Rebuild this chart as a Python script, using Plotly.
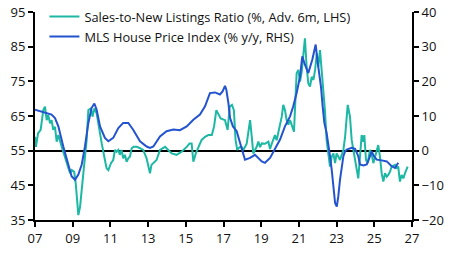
import plotly.graph_objects as go

# Sales-to-New Listings Ratio (%, advanced 6 months, LHS)
snlr_x = [2007.00, 2007.05, 2007.16, 2007.30, 2007.44, 2007.53, 2007.62, 2007.70, 2007.80, 2007.88,
          2007.97, 2008.06, 2008.15, 2008.24, 2008.42, 2008.59, 2008.77, 2008.86, 2008.95, 2009.08,
          2009.16, 2009.24, 2009.30, 2009.39, 2009.48, 2009.62, 2009.74, 2009.83, 2009.97, 2010.05,
          2010.15, 2010.27, 2010.36, 2010.45, 2010.54, 2010.71, 2010.80, 2010.89, 2011.03, 2011.15,
          2011.24, 2011.33, 2011.42, 2011.50, 2011.59, 2011.68, 2011.77, 2011.86, 2011.95, 2012.04,
          2012.13, 2012.23, 2012.40, 2012.57, 2012.74, 2012.92, 2013.10, 2013.18, 2013.28, 2013.45,
          2013.63, 2013.90, 2014.07, 2014.25, 2014.51, 2014.78, 2015.05, 2015.20, 2015.31, 2015.40,
          2015.53, 2015.66, 2015.84, 2016.02, 2016.20, 2016.38, 2016.50, 2016.62, 2016.70, 2016.85,
          2017.08, 2017.22, 2017.33, 2017.45, 2017.55, 2017.64, 2017.73, 2017.85, 2017.97, 2018.05,
          2018.23, 2018.41, 2018.50, 2018.58, 2018.67, 2018.76, 2018.85, 2018.94, 2019.03, 2019.20,
          2019.38, 2019.47, 2019.56, 2019.73, 2019.82, 2020.00, 2020.09, 2020.17, 2020.26, 2020.35,
          2020.44, 2020.53, 2020.62, 2020.74, 2020.79, 2020.88, 2020.97, 2021.06, 2021.15, 2021.24,
          2021.32, 2021.41, 2021.50, 2021.59, 2021.68, 2021.77, 2021.86, 2021.95, 2022.03, 2022.12,
          2022.21, 2022.29, 2022.38, 2022.47, 2022.56, 2022.65, 2022.74, 2022.83, 2022.92, 2023.00,
          2023.09, 2023.18, 2023.27, 2023.36, 2023.45, 2023.54, 2023.59, 2023.71, 2023.80, 2023.89,
          2023.98, 2024.07, 2024.15, 2024.24, 2024.33, 2024.42, 2024.47, 2024.56, 2024.65, 2024.77,
          2024.86, 2024.95, 2025.04, 2025.13, 2025.21, 2025.30, 2025.39, 2025.48, 2025.57, 2025.66,
          2025.74, 2025.83, 2025.92, 2026.10, 2026.19, 2026.27, 2026.36, 2026.45, 2026.54, 2026.63,
          2026.72, 2026.77]
snlr_y = [59.0, 56.1, 60.0, 61.0, 66.7, 67.7, 63.8, 65.3, 62.9, 63.8,
          61.0, 61.9, 57.6, 59.5, 56.1, 53.3, 50.4, 48.5, 49.4, 48.9,
          45.6, 39.8, 36.4, 38.8, 43.7, 50.4, 58.1, 66.7, 67.2, 64.8,
          67.2, 65.8, 62.9, 59.0, 57.1, 52.3, 49.9, 49.4, 51.4, 52.3,
          55.2, 54.7, 55.2, 53.8, 55.2, 52.8, 53.8, 51.8, 52.8, 53.3,
          55.7, 56.1, 56.1, 55.7, 55.2, 52.8, 48.5, 50.9, 51.4, 52.3,
          55.2, 56.1, 55.2, 54.2, 53.8, 54.7, 56.1, 57.1, 57.1, 51.8,
          54.2, 55.7, 58.1, 59.0, 59.5, 59.5, 62.0, 66.7, 66.0, 64.3,
          63.8, 61.0, 67.7, 68.2, 66.7, 58.1, 55.2, 56.0, 56.0, 55.2,
          57.0, 63.8, 59.0, 54.2, 55.2, 56.1, 57.6, 56.0, 57.1, 57.0,
          57.6, 55.5, 57.0, 59.5, 58.0, 62.4, 64.8, 68.2, 66.7, 63.8,
          62.5, 63.8, 62.5, 60.5, 66.7, 77.3, 78.3, 74.9, 77.8, 82.6,
          87.4, 79.2, 74.4, 73.5, 76.3, 75.4, 78.3, 83.1, 79.2, 84.0,
          78.3, 72.5, 66.7, 58.1, 54.2, 50.4, 53.3, 54.2, 51.4, 54.2,
          53.3, 52.3, 53.8, 55.2, 59.0, 65.8, 68.2, 64.8, 58.1, 55.2,
          52.3, 48.5, 47.0, 53.3, 59.5, 57.6, 59.5, 52.3, 51.4, 55.2,
          54.0, 51.4, 53.3, 55.7, 56.6, 53.3, 48.5, 46.1, 48.5, 47.5,
          48.0, 48.9, 50.4, 50.9, 50.0, 50.4, 46.1, 48.0, 47.0, 48.5,
          49.9, 50.4]

# MLS House Price Index (% y/y, RHS)
hpi_x = [2007.00, 2007.50, 2007.88, 2008.06, 2008.24, 2008.50, 2008.77, 2008.94, 2009.12, 2009.30,
         2009.48, 2009.65, 2009.83, 2010.00, 2010.15, 2010.27, 2010.45, 2010.71, 2010.89, 2011.15,
         2011.42, 2011.68, 2011.95, 2012.20, 2012.57, 2012.92, 2013.10, 2013.28, 2013.63, 2013.98,
         2014.34, 2014.69, 2015.05, 2015.40, 2015.75, 2016.02, 2016.28, 2016.55, 2016.81, 2016.95,
         2017.08, 2017.15, 2017.26, 2017.35, 2017.50, 2017.70, 2017.88, 2018.05, 2018.14, 2018.41,
         2018.67, 2019.03, 2019.20, 2019.47, 2019.73, 2020.00, 2020.26, 2020.53, 2020.70, 2020.88,
         2021.06, 2021.18, 2021.32, 2021.50, 2021.71, 2021.89, 2021.98, 2022.08, 2022.17, 2022.26,
         2022.35, 2022.47, 2022.56, 2022.65, 2022.74, 2022.83, 2022.92, 2023.01, 2023.09, 2023.18,
         2023.27, 2023.36, 2023.45, 2023.54, 2023.80, 2023.98, 2024.15, 2024.24, 2024.42, 2024.60,
         2024.74, 2024.86, 2024.98, 2025.13, 2025.39, 2025.66, 2025.92, 2026.10, 2026.27]
hpi_y = [11.8, 11.0, 10.4, 9.4, 7.0, 1.2, -4.5, -7.4, -8.4, -6.9,
         -4.0, 1.2, 8.0, 12.3, 13.6, 11.8, 7.0, 3.7, 2.7, 3.7,
         6.5, 8.0, 8.0, 6.1, 2.7, 1.2, 0.8, 1.2, 4.1, 5.6,
         6.1, 5.9, 7.0, 8.9, 10.4, 12.8, 16.6, 16.8, 16.2, 17.1,
         18.7, 17.6, 13.7, 9.4, 7.0, 5.6, 2.2, -0.7, -2.6, -2.1,
         -1.2, -3.1, -3.5, -2.1, 0.3, 3.2, 7.0, 9.9, 12.8, 16.6,
         21.4, 27.2, 24.8, 22.4, 26.2, 30.6, 26.2, 22.4, 18.5, 12.8,
         8.0, 5.1, 2.2, -1.6, -5.5, -10.3, -15.1, -16.1, -13.2, -8.4,
         -4.5, -1.6, -0.2, 0.3, 0.8, 0.5, -1.6, -4.0, -4.3, -4.0,
         -2.1, -0.2, -1.6, -2.6, -2.8, -3.1, -4.5, -5.0, -3.5]

x_ticks = [2007, 2009, 2011, 2013, 2015, 2017, 2019, 2021, 2023, 2025, 2027]
x_tick_text = ["07", "09", "11", "13", "15", "17", "19", "21", "23", "25", "27"]
left_ticks = [35, 45, 55, 65, 75, 85, 95]
right_ticks = [-20, -10, 0, 10, 20, 30, 40]

TEAL = "#1db8a4"
BLUE = "#2453cf"
FONT = "Open Sans"

fig = go.Figure()
fig.add_trace(go.Scatter(x=snlr_x, y=snlr_y, mode="lines", yaxis="y", legend="legend",
                         name="Sales-to-New Listings Ratio (%, Adv. 6m, LHS)",
                         line=dict(color=TEAL, width=2)))
fig.add_trace(go.Scatter(x=hpi_x, y=hpi_y, mode="lines", yaxis="y2", legend="legend2",
                         name="MLS House Price Index (% y/y, RHS)",
                         line=dict(color=BLUE, width=2)))

axis_common = dict(showgrid=False, showline=True, linecolor="black", linewidth=2,
                   ticks="outside", ticklen=5, tickwidth=2, tickcolor="black",
                   automargin=False,
                   tickfont=dict(family=FONT, size=13, color="#111"))

legend_common = dict(x=0.025, xanchor="left", yanchor="middle",
                     bgcolor="rgba(0,0,0,0)", font=dict(family=FONT, size=12.8, color="#111"),
                     itemwidth=30)

fig.update_layout(
    width=450, height=253,
    margin=dict(l=35, r=38, t=12, b=33, autoexpand=False),
    paper_bgcolor="white", plot_bgcolor="white",
    showlegend=True,
    legend=dict(y=0.977, **legend_common),
    legend2=dict(y=0.881, **legend_common),
    xaxis=dict(range=[2007, 2027], tickvals=x_ticks, ticktext=x_tick_text,
               zeroline=False, **axis_common),
    yaxis=dict(range=[35, 95], tickvals=left_ticks, zeroline=False, **axis_common),
    yaxis2=dict(range=[-20, 40], tickvals=right_ticks, overlaying="y", side="right",
                zeroline=True, zerolinecolor="black", zerolinewidth=2, **axis_common),
)

fig.write_html("out.html")
